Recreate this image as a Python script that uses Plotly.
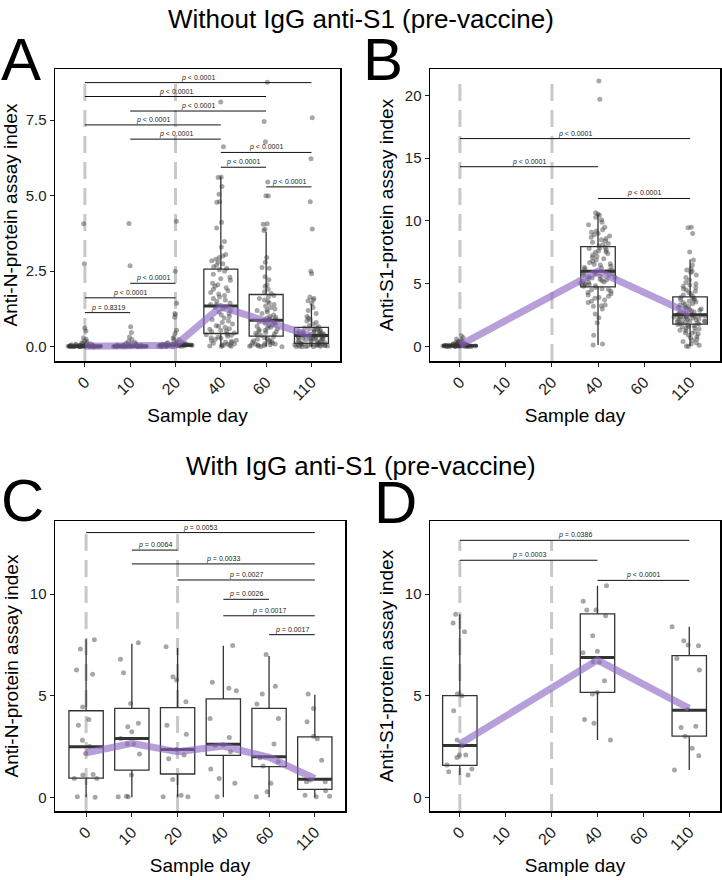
import plotly.graph_objects as go

# ---------------- data ----------------
day_labels = ['0', '10', '20', '40', '60', '110']
day_pos = [0, 1, 2, 3, 4, 5]

# Panel A: anti-N, without IgG anti-S1
a_groups = [0, 1, 2, 3, 4, 5]
a_d0 = [4.07, 2.75, 0.62, 0.52, 0.30, 0.25, 0.20, 0.16, 0.13, 0.11, 0.10, 0.09, 0.08, 0.07, 0.07,
        0.06, 0.06, 0.05, 0.05, 0.05, 0.04, 0.04, 0.04, 0.03, 0.03, 0.03, 0.03, 0.02, 0.02, 0.02,
        0.02, 0.02, 0.01, 0.01, 0.01, 0.01, 0.01, 0.01, 0.00, 0.00, 0.00, 0.00, 0.00, 0.00]
a_d10 = [4.08, 2.68, 0.66, 0.47, 0.32, 0.24, 0.18, 0.14, 0.12, 0.10, 0.09, 0.08, 0.07, 0.06, 0.06,
         0.05, 0.05, 0.04, 0.04, 0.04, 0.03, 0.03, 0.03, 0.02, 0.02, 0.02, 0.02, 0.01, 0.01, 0.01,
         0.01, 0.00, 0.00, 0.00, 0.00, 0.00]
a_d20 = [4.15, 2.50, 1.44, 1.10, 1.06, 0.98, 0.55, 0.45, 0.32, 0.28, 0.24, 0.20, 0.17, 0.15, 0.13,
         0.12, 0.11, 0.10, 0.09, 0.09, 0.08, 0.08, 0.07, 0.07, 0.06, 0.06, 0.05, 0.05, 0.05, 0.04,
         0.04, 0.04, 0.03, 0.03, 0.03, 0.02, 0.02, 0.02, 0.01, 0.01, 0.00, 0.00]
a_d40 = [8.10, 6.62, 5.62, 5.60, 5.30, 5.05, 4.80, 4.78, 4.12, 3.93, 3.48, 3.30, 3.05, 3.00, 2.95,
         2.90, 2.85, 2.80, 2.75, 2.70, 2.65, 2.60,
         2.55, 2.50, 2.40, 2.30, 2.25, 2.20, 2.10, 2.05, 2.00, 1.95, 1.90, 1.85, 1.80, 1.75, 1.70,
         1.65, 1.60, 1.55, 1.50, 1.45, 1.40, 1.38,
         1.32, 1.30, 1.25, 1.20, 1.15, 1.10, 1.05, 1.00, 0.95, 0.90, 0.85, 0.80, 0.75, 0.70, 0.68,
         0.65, 0.60, 0.58, 0.55, 0.52, 0.50, 0.46,
         0.42, 0.40, 0.38, 0.35, 0.32, 0.30, 0.28, 0.25, 0.22, 0.20, 0.18, 0.15, 0.14, 0.12, 0.10,
         0.08, 0.07, 0.05, 0.04, 0.03, 0.02, 0.01]
a_d60 = [8.75, 7.45, 6.78, 5.45, 5.00, 4.99, 4.07, 4.05, 3.90, 3.85, 2.95, 2.80, 2.62, 2.60, 2.32,
         2.22, 2.05, 2.00, 1.90, 1.82, 1.76,
         1.70, 1.65, 1.60, 1.55, 1.50, 1.45, 1.40, 1.35, 1.30, 1.25, 1.22, 1.20, 1.15, 1.10, 1.05,
         1.00, 0.98, 0.95, 0.93, 0.90, 0.89,
         0.87, 0.85, 0.82, 0.80, 0.78, 0.75, 0.72, 0.70, 0.68, 0.65, 0.62, 0.60, 0.57, 0.55, 0.52,
         0.50, 0.47, 0.45, 0.42, 0.40, 0.37,
         0.33, 0.30, 0.28, 0.25, 0.22, 0.20, 0.18, 0.16, 0.14, 0.12, 0.10, 0.09, 0.08, 0.07, 0.06,
         0.05, 0.04, 0.03, 0.02, 0.01, 0.00]
a_d110 = [7.58, 6.22, 4.80, 3.90, 2.50, 2.42, 1.65, 1.60, 1.55, 1.52, 1.43, 1.30, 1.20, 1.10, 1.00,
          0.95, 0.90, 0.85, 0.80, 0.75, 0.70, 0.66,
          0.63, 0.62, 0.60, 0.58, 0.57, 0.55, 0.53, 0.52, 0.50, 0.49, 0.48, 0.47, 0.46, 0.45, 0.44,
          0.43, 0.42, 0.41, 0.40, 0.39, 0.38, 0.37,
          0.36, 0.35, 0.34, 0.33, 0.32, 0.31, 0.30, 0.29, 0.28, 0.27, 0.26, 0.25, 0.24, 0.22, 0.21,
          0.20, 0.19, 0.17, 0.16, 0.14, 0.13, 0.12,
          0.10, 0.10, 0.09, 0.09, 0.08, 0.08, 0.07, 0.07, 0.06, 0.06, 0.05, 0.05, 0.04, 0.04, 0.03,
          0.03, 0.02, 0.02, 0.01, 0.01, 0.00, 0.00]
a_q1 = [0.00, 0.00, 0.02, 0.44, 0.35, 0.11]
a_med = [0.02, 0.02, 0.05, 1.35, 0.88, 0.37]
a_q3 = [0.05, 0.05, 0.09, 2.57, 1.73, 0.64]
a_lo = [0.00, 0.00, 0.00, 0.00, 0.00, 0.00]
a_hi = [0.11, 0.11, 0.18, 5.63, 3.81, 1.43]
a_trend = [0.02, 0.02, 0.05, 1.33, 0.85, 0.36]
a_brackets = [(0, 5, 8.74, 'p < 0.0001'), (0, 4, 8.28, 'p < 0.0001'), (1, 4, 7.80, 'p < 0.0001'),
              (0, 3, 7.34, 'p < 0.0001'), (1, 3, 6.87, 'p < 0.0001'), (3, 5, 6.43, 'p < 0.0001'),
              (3, 4, 5.94, 'p < 0.0001'), (4, 5, 5.29, 'p < 0.0001'), (1, 2, 2.10, 'p < 0.0001'),
              (0, 2, 1.62, 'p < 0.0001'), (0, 1, 1.13, 'p = 0.8319')]

# Panel B: anti-S1, without IgG anti-S1
b_groups = [0, 3, 5]
b_d0 = [0.86, 0.72, 0.60, 0.52, 0.45, 0.40, 0.36, 0.32, 0.30, 0.28, 0.25, 0.23, 0.21, 0.20, 0.18,
        0.17, 0.16, 0.15, 0.14, 0.13, 0.12, 0.12, 0.11, 0.11, 0.10, 0.10, 0.09, 0.09, 0.09, 0.08,
        0.08, 0.08, 0.07, 0.07, 0.07, 0.07, 0.06, 0.06, 0.06, 0.05, 0.05, 0.05, 0.04, 0.04, 0.04,
        0.03, 0.03, 0.03, 0.02, 0.02, 0.02, 0.01, 0.01, 0.00, 0.00]
b_d40 = [0.12, 0.20, 0.90, 1.90, 2.30, 2.60, 3.00, 3.20, 3.25, 3.30, 3.50, 3.60, 3.70, 3.85, 3.90,
         4.00, 4.10, 4.20, 4.30, 4.40, 4.50, 4.55, 4.60, 4.70,
         4.80, 4.85, 4.90, 4.95, 5.00, 5.05, 5.10, 5.15, 5.20, 5.25, 5.30, 5.35, 5.40, 5.45, 5.50,
         5.55, 5.60, 5.65, 5.70, 5.75, 5.80, 5.85, 5.90, 5.95,
         6.05, 6.10, 6.20, 6.25, 6.30, 6.40, 6.50, 6.55, 6.60, 6.70, 6.80, 6.90, 7.00, 7.10, 7.20,
         7.30, 7.40, 7.50, 7.55, 7.60, 7.70, 7.80, 7.85, 7.90,
         8.00, 8.10, 8.20, 8.30, 8.40, 8.50, 8.60, 8.70, 8.80, 8.90, 9.00, 9.10, 9.20, 9.30, 9.50,
         9.70, 9.90, 10.10, 10.30, 10.45, 10.55, 10.65, 19.70, 21.15]
b_d110 = [0.00, 0.05, 0.10, 0.20, 0.30, 0.40, 0.50, 0.60, 0.70, 0.80, 0.90, 1.00, 1.05, 1.10, 1.20,
          1.25, 1.30, 1.40, 1.45, 1.50, 1.55, 1.60, 1.65, 1.70, 1.75,
          1.80, 1.83, 1.86, 1.90, 1.93, 1.96, 2.00, 2.03, 2.06, 2.10, 2.13, 2.16, 2.20, 2.23, 2.26,
          2.30, 2.33, 2.36, 2.40, 2.42, 2.44, 2.46, 2.48, 2.50, 2.52,
          2.56, 2.60, 2.65, 2.70, 2.75, 2.80, 2.85, 2.90, 2.95, 3.00, 3.05, 3.10, 3.15, 3.20, 3.30,
          3.35, 3.40, 3.50, 3.55, 3.60, 3.70, 3.75, 3.80, 3.85, 3.90,
          4.00, 4.10, 4.20, 4.30, 4.40, 4.50, 4.60, 4.70, 4.80, 4.90, 5.00, 5.10, 5.30, 5.50, 5.70,
          5.90, 6.00, 6.10, 6.20, 6.50, 6.90, 7.53, 9.00, 9.45, 9.50]
b_q1 = [0.02, 4.75, 1.79]
b_med = [0.07, 6.00, 2.54]
b_q3 = [0.12, 7.95, 3.95]
b_lo = [0.00, 0.12, 0.05]
b_hi = [0.25, 10.55, 6.94]
b_trend = [0.12, 6.00, 2.62]
b_brackets = [(0, 5, 16.56, 'p < 0.0001'), (0, 3, 14.32, 'p < 0.0001'), (3, 5, 11.79, 'p < 0.0001')]

# Panel C: anti-N, with IgG anti-S1
c_groups = [0, 1, 2, 3, 4, 5]
c_d0 = [7.75, 7.30, 6.26, 6.06, 4.45, 3.83, 3.55, 2.81, 2.50, 2.16, 1.13, 1.10, 0.93, 0.93, 0.03, 0.00]
c_d10 = [7.60, 6.79, 6.13, 4.62, 3.64, 3.47, 3.23, 2.90, 2.62, 2.62, 2.13, 1.10, 0.06, 0.03, 0.03]
c_d20 = [7.41, 5.93, 5.77, 4.70, 3.55, 3.10, 2.36, 2.08, 1.90, 0.88, 0.10, 0.03, 0.03]
c_d40 = [7.47, 5.66, 5.36, 5.24, 3.88, 2.95, 2.57, 2.55, 2.24, 1.39, 0.93, 0.69, 0.03]
c_d60 = [7.03, 5.47, 5.08, 4.59, 3.88, 2.62, 1.95, 1.75, 1.54, 0.69, 0.28, 0.03]
c_d110 = [5.08, 4.37, 3.72, 3.01, 2.88, 1.83, 0.85, 0.77, 0.77, 0.33, 0.11, 0.06, 0.03]
c_q1 = [0.95, 1.34, 1.15, 2.07, 1.51, 0.39]
c_med = [2.49, 2.90, 2.36, 2.61, 2.00, 0.89]
c_q3 = [4.26, 4.38, 4.41, 4.84, 4.38, 2.97]
c_lo = [0.00, 0.00, 0.00, 0.00, 0.00, 0.00]
c_hi = [7.77, 7.55, 7.35, 7.45, 6.95, 5.05]
c_trend = [2.19, 2.66, 2.24, 2.52, 1.97, 0.93]
c_brackets = [(0, 5, 13.02, 'p = 0.0053'), (1, 2, 12.16, 'p = 0.0064'), (1, 5, 11.48, 'p = 0.0033'),
              (2, 5, 10.69, 'p = 0.0027'), (3, 4, 9.74, 'p = 0.0026'), (3, 5, 8.93, 'p = 0.0017'),
              (4, 5, 8.00, 'p = 0.0017')]

# Panel D: anti-S1, with IgG anti-S1
d_groups = [0, 3, 5]
d_d0 = [9.00, 8.58, 8.15, 5.08, 5.00, 4.26, 2.82, 2.54, 2.08, 2.08, 1.96, 1.59, 1.39, 1.26, 1.10]
d_d40 = [10.40, 9.65, 9.21, 9.21, 8.93, 7.95, 7.19, 7.11, 6.67, 6.64, 5.74, 5.16, 5.08, 3.83, 3.64, 2.82]
d_d110 = [8.39, 7.70, 7.49, 7.46, 6.83, 6.26, 4.32, 3.50, 3.44, 3.01, 2.41, 2.05, 1.34]
d_q1 = [1.57, 5.16, 3.01]
d_med = [2.55, 6.88, 4.28]
d_q3 = [5.00, 9.02, 6.97]
d_lo = [1.10, 2.82, 1.34]
d_hi = [9.00, 10.40, 8.39]
d_trend = [2.62, 6.75, 4.38]
d_brackets = [(0, 5, 12.64, 'p = 0.0386'), (0, 3, 11.66, 'p = 0.0003'), (3, 5, 10.67, 'p < 0.0001')]

dashed_days = [0, 2]  # day 0 and day 20

# ---------------- styling ----------------
FONT = 'Liberation Sans, Arial, Helvetica, sans-serif'
W, H = 722, 880
BOX_W = 0.75

fig = go.Figure()
shapes = []
annotations = []


def add_panel(xa, ya, groups, pts, q1, med, q3, lo, hi, trend, brackets, yrange):
    xs, ys = [], []
    for g, vals in zip(groups, pts):
        xs += [g] * len(vals)
        ys += vals
    vtop = max(max(b[2] for b in brackets), max(ys))
    for d in dashed_days:
        shapes.append(dict(type='line', xref=xa, yref=ya, x0=d, x1=d, y0=yrange[0], y1=vtop,
                           layer='below', line=dict(color='#c8c8c8', width=3, dash='17px,9px')))
    # jittered points
    fig.add_trace(go.Box(x=xs, y=ys, boxpoints='all', jitter=0.95, pointpos=0, width=0.8,
                         fillcolor='rgba(0,0,0,0)', line=dict(width=0, color='rgba(0,0,0,0)'),
                         marker=dict(size=5, color='rgba(60,60,60,0.45)'),
                         xaxis=xa, yaxis=ya, hoverinfo='skip', showlegend=False))
    # boxes
    fig.add_trace(go.Box(x=groups, q1=q1, median=med, q3=q3, lowerfence=lo, upperfence=hi,
                         width=BOX_W, boxpoints=False, whiskerwidth=0,
                         fillcolor='rgba(0,0,0,0)', line=dict(color='#333333', width=1.3),
                         xaxis=xa, yaxis=ya, hoverinfo='skip', showlegend=False))
    # thick medians
    mx, my = [], []
    for g, m in zip(groups, med):
        mx += [g - BOX_W / 2, g + BOX_W / 2, None]
        my += [m, m, None]
    fig.add_trace(go.Scatter(x=mx, y=my, mode='lines', line=dict(color='#333333', width=3),
                             xaxis=xa, yaxis=ya, hoverinfo='skip', showlegend=False))
    # trend line
    fig.add_trace(go.Scatter(x=groups, y=trend, mode='lines',
                             line=dict(color='rgba(138,100,196,0.62)', width=7),
                             xaxis=xa, yaxis=ya, hoverinfo='skip', showlegend=False))
    # significance brackets
    bx, by = [], []
    for g1, g2, yv, lab in brackets:
        bx += [g1, g2, None]
        by += [yv, yv, None]
        txt = '<i>p</i>' + lab[1:].replace('<', '&lt;')
        annotations.append(dict(x=(g1 + g2) / 2, y=yv, xref=xa, yref=ya, text=txt,
                                showarrow=False, xanchor='center', yanchor='bottom', yshift=-1,
                                font=dict(size=7, color='#222222', family=FONT)))
    fig.add_trace(go.Scatter(x=bx, y=by, mode='lines', line=dict(color='#111111', width=1),
                             xaxis=xa, yaxis=ya, hoverinfo='skip', showlegend=False))


add_panel('x', 'y', a_groups, [a_d0, a_d10, a_d20, a_d40, a_d60, a_d110],
          a_q1, a_med, a_q3, a_lo, a_hi, a_trend, a_brackets, [-0.47, 9.19])
add_panel('x2', 'y2', b_groups, [b_d0, b_d40, b_d110],
          b_q1, b_med, b_q3, b_lo, b_hi, b_trend, b_brackets, [-1.15, 22.1])
add_panel('x3', 'y3', c_groups, [c_d0, c_d10, c_d20, c_d40, c_d60, c_d110],
          c_q1, c_med, c_q3, c_lo, c_hi, c_trend, c_brackets, [-0.67, 13.59])
add_panel('x4', 'y4', d_groups, [d_d0, d_d40, d_d110],
          d_q1, d_med, d_q3, d_lo, d_hi, d_trend, d_brackets, [-0.67, 13.59])


def xaxis(dom, rng, anchor):
    return dict(domain=dom, range=rng, anchor=anchor, tickmode='array', tickvals=day_pos,
                ticktext=day_labels, tickangle=-45, showline=True, mirror=True, linecolor='black',
                linewidth=1.5, ticks='outside', ticklen=4, tickcolor='#222', showgrid=False,
                zeroline=False, tickfont=dict(size=16, color='#222', family=FONT),
                title=dict(text='Sample day', standoff=6, font=dict(size=19, color='black', family=FONT)))


def yaxis(dom, rng, anchor, vals, texts, title):
    return dict(domain=dom, range=rng, anchor=anchor, tickmode='array', tickvals=vals, ticktext=texts,
                showline=True, mirror=True, linecolor='black', linewidth=1.5, ticks='outside',
                ticklen=4, tickcolor='#222', showgrid=False, zeroline=False,
                tickfont=dict(size=15, color='#222', family=FONT),
                title=dict(text=title, standoff=6, font=dict(size=19, color='black', family=FONT)))


dAx = [55 / W, 340 / W]
dBx = [430 / W, 720 / W]
dCx = [55 / W, 345 / W]
dDx = [430 / W, 720 / W]
dTop = [1 - 361 / H, 1 - 69 / H]
dBot = [1 - 811 / H, 1 - 521 / H]


def paper_text(x, y, text, size):
    return dict(x=x / W, y=1 - y / H, xref='paper', yref='paper', text=text, showarrow=False,
                xanchor='center', yanchor='middle', font=dict(size=size, color='black', family=FONT))


annotations += [
    paper_text(361, 19, 'Without IgG anti-S1 (pre-vaccine)', 26),
    paper_text(361, 466, 'With IgG anti-S1 (pre-vaccine)', 26),
    paper_text(21, 60, 'A', 60),
    paper_text(383, 60, 'B', 60),
    paper_text(22, 500, 'C', 60),
    paper_text(395, 502, 'D', 60),
]

fig.update_layout(
    width=W, height=H, margin=dict(l=0, r=0, t=0, b=0),
    paper_bgcolor='white', plot_bgcolor='white', showlegend=False, boxmode='overlay',
    font=dict(family=FONT), hovermode=False,
    xaxis=xaxis(dAx, [-0.66, 5.63], 'y'),
    yaxis=yaxis(dTop, [-0.47, 9.19], 'x', [0, 2.5, 5, 7.5], ['0.0', '2.5', '5.0', '7.5'],
                'Anti-N-protein assay index'),
    xaxis2=xaxis(dBx, [-0.65, 5.65], 'y2'),
    yaxis2=yaxis(dTop, [-1.15, 22.1], 'x2', [0, 5, 10, 15, 20], ['0', '5', '10', '15', '20'],
                 'Anti-S1-protein assay index'),
    xaxis3=xaxis(dCx, [-0.68, 5.66], 'y3'),
    yaxis3=yaxis(dBot, [-0.67, 13.59], 'x3', [0, 5, 10], ['0', '5', '10'],
                 'Anti-N-protein assay index'),
    xaxis4=xaxis(dDx, [-0.65, 5.67], 'y4'),
    yaxis4=yaxis(dBot, [-0.67, 13.59], 'x4', [0, 5, 10], ['0', '5', '10'],
                 'Anti-S1-protein assay index'),
    shapes=shapes, annotations=annotations,
)

fig.write_html('out.html', config={'displayModeBar': False, 'staticPlot': True},
               post_script="document.body.style.margin='0';document.body.style.overflow='hidden';")
